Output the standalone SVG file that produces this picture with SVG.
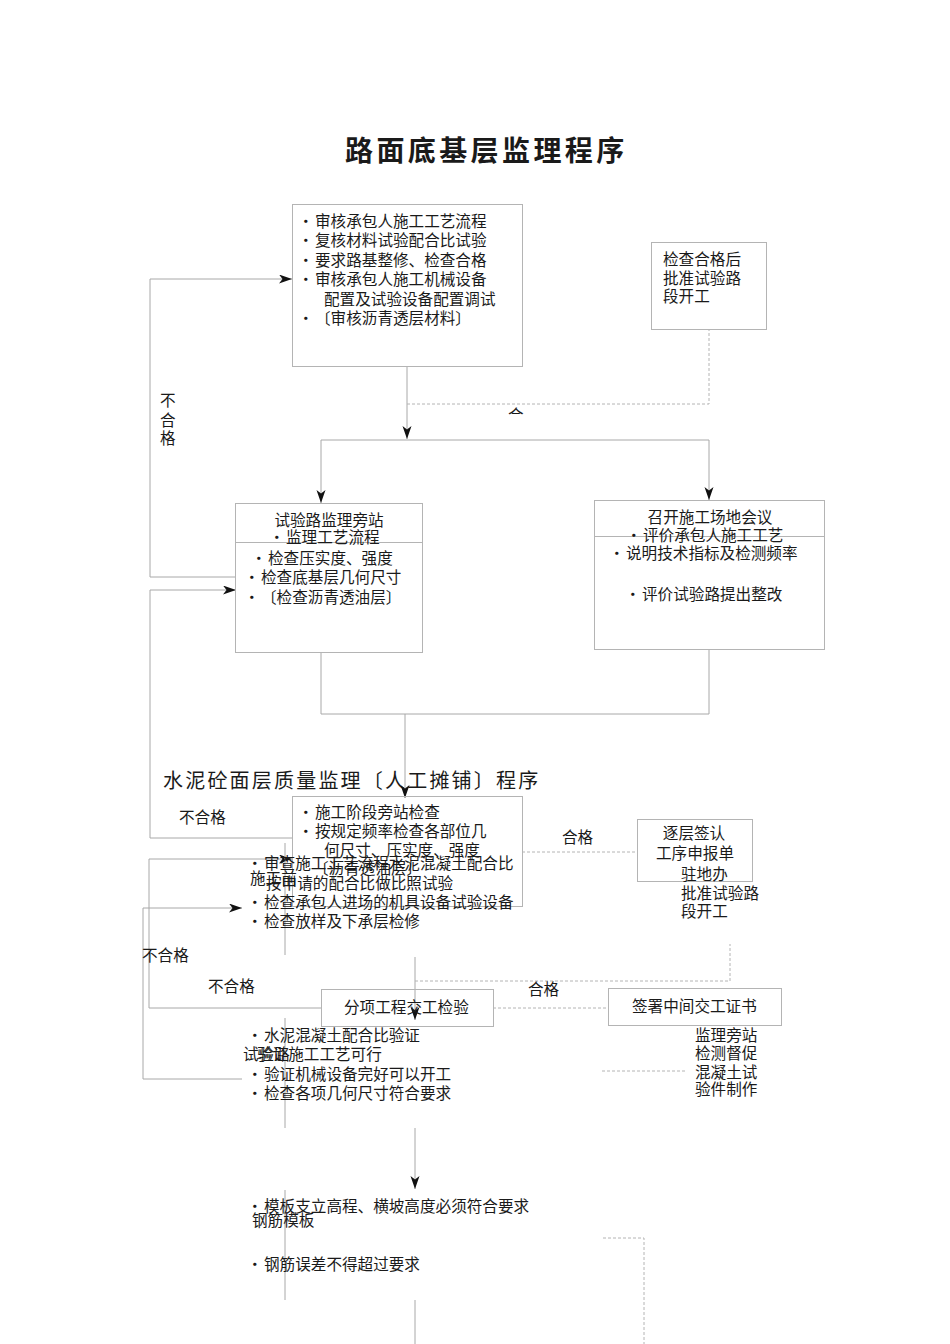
<svg xmlns="http://www.w3.org/2000/svg" width="950" height="1344" viewBox="0 0 950 1344">
<style>
text{font-family:"Noto Sans CJK SC","Noto Sans CJK JP",sans-serif;font-size:15.6px;fill:#1a1a1a}
.box{fill:none;stroke:#b4b4b4;stroke-width:1}
.ln{fill:none;stroke:#a8a8a8;stroke-width:1}
.dash{fill:none;stroke:#b4b4b4;stroke-width:1;stroke-dasharray:3 2}
.mid{text-anchor:middle}
</style>
<defs>
<marker id="arr" markerUnits="userSpaceOnUse" markerWidth="14" markerHeight="10" refX="13" refY="4.5" orient="auto">
<path d="M0,0 L13,4.5 L0,9 L3.5,4.5 Z" fill="#111"/>
</marker>
<clipPath id="clipHe"><rect x="500" y="404" width="30" height="11"/></clipPath>
</defs>
<rect width="950" height="1344" fill="#fff"/>

<text x="345" y="161" style="font-size:28px;font-weight:bold;letter-spacing:3.4px">路面底基层监理程序</text>
<text x="163" y="788" style="font-size:20px;letter-spacing:2.2px">水泥砼面层质量监理〔人工摊铺〕程序</text>

<g id="connectors">
<path class="ln" d="M236,577 H150 V279 H292" marker-end="url(#arr)"/>
<path class="ln" d="M407,366 V439" marker-end="url(#arr)"/>
<path class="ln" d="M321,440 H709"/>
<path class="ln" d="M321,440 V503" marker-end="url(#arr)"/>
<path class="ln" d="M709,440 V500" marker-end="url(#arr)"/>
<path class="dash" d="M407,404 H709 V329"/>
<path class="ln" d="M321,652 V714 H709 V649"/>
<path class="ln" d="M405,714 V798" marker-end="url(#arr)"/>
<path class="ln" d="M292,838 H150 V590 H236" marker-end="url(#arr)"/>
<path class="ln" d="M321,1008 H149 V859 H292" marker-end="url(#arr)"/>
<path class="ln" d="M242,1079 H143 V908 H242" marker-end="url(#arr)"/>
<path class="ln" d="M285,843 V955 M285,1018 V1128 M285,1190 V1300"/>
<path class="ln" d="M415,957 V1020" marker-end="url(#arr)"/>
<path class="dash" d="M415,981 H730 V944"/>
<path class="dash" d="M493,1008 H608"/>
<path class="dash" d="M522,852 H637"/>
<path class="dash" d="M602,1071 H687"/>
<path class="ln" d="M415,1128 V1189" marker-end="url(#arr)"/>
<path class="ln" d="M415,1300 V1344"/>
<path class="dash" d="M603,1238 H644 V1344"/>
<text x="508" y="421" clip-path="url(#clipHe)">合</text>
</g>

<g id="label-buhege1">
<text x="160" y="406">不</text>
<text x="160" y="426">合</text>
<text x="160" y="444">格</text>
</g>
<g id="label-buhege2"><text x="179" y="823">不合格</text></g>
<g id="label-hege1"><text x="562" y="843">合格</text></g>
<g id="label-buhege3"><text x="142" y="961">不合格</text></g>
<g id="label-buhege4"><text x="208" y="992">不合格</text></g>
<g id="label-hege2"><text x="528" y="995">合格</text></g>

<g id="node-review">
<rect class="box" x="292.5" y="204.5" width="230" height="162"/>
<text x="298" y="227">·<tspan x="315">审核承包人施工工艺流程</tspan></text>
<text x="298" y="246">·<tspan x="315">复核材料试验配合比试验</tspan></text>
<text x="298" y="266">·<tspan x="315">要求路基整修、检查合格</tspan></text>
<text x="298" y="285">·<tspan x="315">审核承包人施工机械设备</tspan></text>
<text x="324" y="305">配置及试验设备配置调试</text>
<text x="298" y="324">·<tspan x="315">〔审核沥青透层材料〕</tspan></text>
</g>

<g id="node-approve">
<rect class="box" x="651.5" y="242.5" width="115" height="87"/>
<text x="663" y="265">检查合格后</text>
<text x="663" y="284">批准试验路</text>
<text x="663" y="302">段开工</text>
</g>

<g id="node-trial">
<rect class="box" x="235.5" y="503.5" width="187" height="149"/>
<line class="box" x1="236" y1="542.5" x2="422" y2="542.5"/>
<text class="mid" x="329" y="526">试验路监理旁站</text>
<text x="269" y="543">·<tspan x="286">监理工艺流程</tspan></text>
<text x="251" y="564">·<tspan x="268">检查压实度、强度</tspan></text>
<text x="244" y="583">·<tspan x="261">检查底基层几何尺寸</tspan></text>
<text x="244" y="603">·<tspan x="261">〔检查沥青透油层〕</tspan></text>
</g>

<g id="node-meeting">
<rect class="box" x="594.5" y="500.5" width="230" height="149"/>
<line class="box" x1="595" y1="536.5" x2="824" y2="536.5"/>
<text class="mid" x="710" y="523">召开施工场地会议</text>
<text x="626" y="541">·<tspan x="643">评价承包人施工工艺</tspan></text>
<text x="609" y="559">·<tspan x="626">说明技术指标及检测频率</tspan></text>
<text x="625" y="600">·<tspan x="642">评价试验路提出整改</tspan></text>
</g>

<g id="node-construct">
<rect class="box" x="292.5" y="796.5" width="230" height="110"/>
<text x="298" y="818">·<tspan x="315">施工阶段旁站检查</tspan></text>
<text x="298" y="837">·<tspan x="315">按规定频率检查各部位几</tspan></text>
<text x="324" y="856">何尺寸、压实度、强度</text>
<text x="313" y="874">〔沥青透油层〕</text>
</g>

<g id="node-pre">
<text x="247" y="869">·<tspan x="264">审查施工工艺流程水泥混凝土配合比</tspan></text>
<text x="250" y="884">施工前</text>
<text x="266" y="889">按申请的配合比做比照试验</text>
<text x="247" y="908">·<tspan x="264">检查承包人进场的机具设备试验设备</tspan></text>
<text x="247" y="927">·<tspan x="264">检查放样及下承层检修</tspan></text>
</g>

<g id="node-sign-layer">
<rect class="box" x="637.5" y="819.5" width="115" height="62"/>
<text class="mid" x="694" y="839">逐层签认</text>
<text class="mid" x="695" y="859">工序申报单</text>
<text x="681" y="880">驻地办</text>
<text x="681" y="899">批准试验路</text>
<text x="681" y="917">段开工</text>
</g>

<g id="node-final">
<rect class="box" x="321.5" y="989.5" width="172" height="37"/>
<text x="344" y="1013">分项工程交工检验</text>
</g>

<g id="node-cert">
<rect class="box" x="608.5" y="988.5" width="173" height="37"/>
<text x="632" y="1012">签署中间交工证书</text>
<text x="695" y="1041">监理旁站</text>
<text x="695" y="1059">检测督促</text>
<text x="695" y="1078">混凝土试</text>
<text x="695" y="1095">验件制作</text>
</g>

<g id="node-trialroad">
<text x="247" y="1041">·<tspan x="264">水泥混凝土配合比验证</tspan></text>
<text x="243" y="1060">试验路</text>
<text x="257" y="1060">验证施工工艺可行</text>
<text x="247" y="1080">·<tspan x="264">验证机械设备完好可以开工</tspan></text>
<text x="247" y="1099">·<tspan x="264">检查各项几何尺寸符合要求</tspan></text>
</g>

<g id="node-formwork">
<text x="247" y="1212">·<tspan x="264">模板支立高程、横坡高度必须符合要求</tspan></text>
<text x="252" y="1226">钢筋模板</text>
<text x="247" y="1270">·<tspan x="264">钢筋误差不得超过要求</tspan></text>
</g>
</svg>
